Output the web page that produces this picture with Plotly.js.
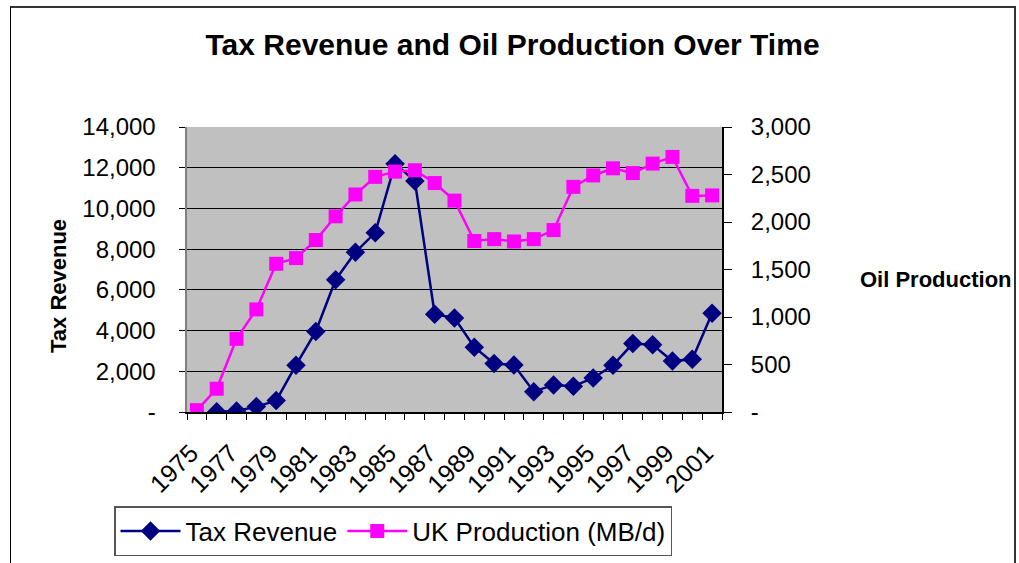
<!DOCTYPE html>
<html>
<head>
<meta charset="utf-8">
<script src="https://cdn.plot.ly/plotly-3.0.1.min.js"></script>
<style>
  html, body { margin: 0; padding: 0; background: #fff; overflow: hidden; }
  #chart { width: 1019px; height: 563px; }
  #frame { position: absolute; left: 10px; top: 6px; width: 1003px; height: 600px;
           border-left: 1.5px solid #000; border-top: 2px solid #333; border-right: 2px solid #333;
           pointer-events: none; }
</style>
</head>
<body>
<div id="chart"></div>
<div id="frame"></div>
<script>
// ---- data ----
const years = [1975,1976,1977,1978,1979,1980,1981,1982,1983,1984,1985,1986,1987,1988,
               1989,1990,1991,1992,1993,1994,1995,1996,1997,1998,1999,2000,2001];
const taxRevenue = [null, 10, 50, 265, 560, 2300, 3960, 6500, 7850, 8810, 12200, 11350, 4800,
                    4620, 3180, 2380, 2310, 1000, 1330, 1260, 1670, 2300, 3360, 3300, 2500, 2590, 4850];
const ukProduction = [20, 245, 770, 1080, 1560, 1620, 1810, 2060, 2290, 2475, 2530, 2545, 2410,
                      2225, 1800, 1820, 1795, 1820, 1915, 2370, 2490, 2565, 2515, 2615, 2685, 2275, 2280];
const xTickYears = [1975,1977,1979,1981,1983,1985,1987,1989,1991,1993,1995,1997,1999,2001];
const xTickText = xTickYears.map(String);
const leftTickVals = [0,2000,4000,6000,8000,10000,12000,14000];
const leftTickText = ['-','2,000','4,000','6,000','8,000','10,000','12,000','14,000'];
const rightTickVals = [0,500,1000,1500,2000,2500,3000];
const rightTickText = ['-','500','1,000','1,500','2,000','2,500','3,000'];
const seriesNames = ['Tax Revenue', 'UK Production (MB/d)'];

const FONT = 'Liberation Sans, Arial, sans-serif';

const traces = [
  {
    x: years, y: taxRevenue, name: seriesNames[0], type: 'scatter', mode: 'lines+markers',
    line: {color: '#000080', width: 2.5},
    marker: {symbol: 'diamond', size: 15, color: '#000080'},
    yaxis: 'y', connectgaps: false
  },
  {
    x: years, y: ukProduction, name: seriesNames[1], type: 'scatter', mode: 'lines+markers',
    line: {color: '#FF00FF', width: 2.5},
    marker: {symbol: 'square', size: 14, color: '#FF00FF'},
    yaxis: 'y2'
  }
];

const layout = {
  width: 1019, height: 563,
  margin: {l: 187, r: 297, t: 127, b: 151, pad: 0, autoexpand: false},
  paper_bgcolor: '#ffffff',
  plot_bgcolor: '#C0C0C0',
  font: {family: FONT, color: '#000'},
  title: {
    text: '<b>Tax Revenue and Oil Production Over Time</b>',
    font: {family: FONT, size: 30, color: '#000'},
    x: 0.503, xref: 'container', xanchor: 'center',
    y: 1 - 44/563, yref: 'container', yanchor: 'middle'
  },
  xaxis: {
    type: 'linear', automargin: false,
    range: [years[0] - 0.5, years[years.length - 1] + 0.5],
    tickmode: 'array', tickvals: xTickYears, ticktext: xTickText,
    tickangle: -45, ticks: '',
    tickfont: {family: FONT, size: 25, color: '#000'},
    ticklabelstandoff: 15, ticklabelshift: -6,
    showgrid: false, zeroline: false,
    showline: true, linecolor: '#000', linewidth: 1.5,
    minor: {tickmode: 'linear', tick0: years[0] - 0.5, dtick: 1, ticks: 'outside',
            ticklen: 6, tickcolor: '#000', tickwidth: 1, showgrid: false},
    fixedrange: true
  },
  yaxis: {
    range: [0, 14000], automargin: false,
    tickmode: 'array', tickvals: leftTickVals, ticktext: leftTickText,
    ticks: 'outside', ticklen: 6, tickcolor: '#000', tickwidth: 1,
    tickfont: {family: FONT, size: 24, color: '#000'},
    ticklabelstandoff: 18,
    showgrid: true, gridcolor: '#000', gridwidth: 1,
    zeroline: false,
    showline: true, linecolor: '#808080', linewidth: 2.5,
    fixedrange: true
  },
  yaxis2: {
    range: [0, 3000], automargin: false,
    overlaying: 'y', side: 'right',
    tickmode: 'array', tickvals: rightTickVals, ticktext: rightTickText,
    ticks: 'outside', ticklen: 8, tickcolor: '#000', tickwidth: 1,
    tickfont: {family: FONT, size: 24, color: '#000'},
    ticklabelstandoff: 14,
    showgrid: false, zeroline: false,
    showline: true, linecolor: '#000', linewidth: 2,
    fixedrange: true
  },
  legend: {
    orientation: 'h',
    x: (114 - 187) / 535, xanchor: 'left',
    y: (412 - 506) / 285, yanchor: 'top',
    bordercolor: '#555', borderwidth: 1.5, bgcolor: '#fff',
    font: {family: FONT, size: 26, color: '#000'},
    itemwidth: 60,
    tracegroupgap: 0
  },
  annotations: [
    {
      text: '<b>Tax Revenue</b>', textangle: -90,
      xref: 'paper', yref: 'paper',
      x: (58 - 187) / 535, y: (412 - 286) / 285,
      xanchor: 'center', yanchor: 'middle', showarrow: false,
      font: {family: FONT, size: 22, color: '#000'}
    },
    {
      text: '<b>Oil Production</b>',
      xref: 'paper', yref: 'paper',
      x: (936 - 187) / 535, y: (412 - 279) / 285,
      xanchor: 'center', yanchor: 'middle', showarrow: false,
      font: {family: FONT, size: 22, color: '#000'}
    }
  ],
  showlegend: true
};

Plotly.newPlot('chart', traces, layout, {displayModeBar: false, staticPlot: true});
</script>
</body>
</html>
